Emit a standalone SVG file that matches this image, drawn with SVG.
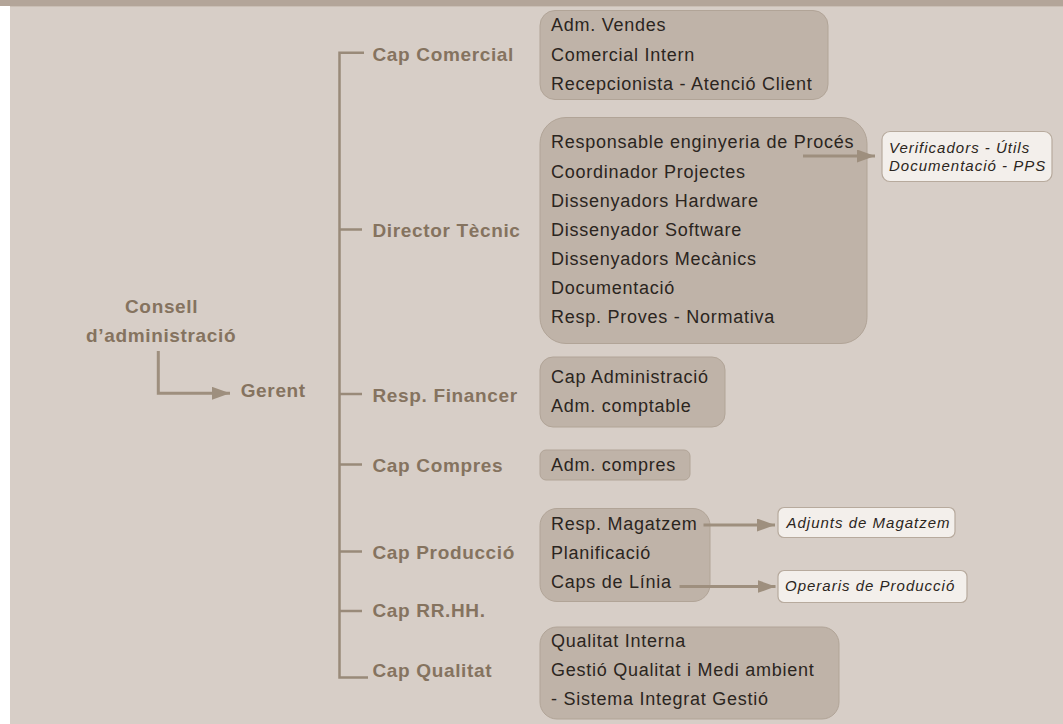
<svg xmlns="http://www.w3.org/2000/svg" width="1063" height="724" viewBox="0 0 1063 724">
<style>
.lbl{font-family:"Liberation Sans",Arial,sans-serif;font-weight:bold;font-size:19px;letter-spacing:0.65px;fill:#85735f}
.box{fill:#bfb3a8;stroke:#b1a497;stroke-width:1}
.bt{font-family:"Liberation Sans",Arial,sans-serif;font-size:18px;letter-spacing:0.75px;fill:#2b2520}
.note{fill:#f3efeb;stroke:#b7aa9d;stroke-width:1.2}
.nt{font-family:"Liberation Sans",Arial,sans-serif;font-style:italic;font-size:15px;letter-spacing:1px;fill:#2b2520}
.ln{fill:none;stroke:#998a79;stroke-width:2.5}
.ar{fill:none;stroke:#9e8f7e;stroke-width:3}
</style>
<defs>
<marker id="ah" markerWidth="19" markerHeight="13" refX="18" refY="6.5" orient="auto" markerUnits="userSpaceOnUse">
<path d="M0,0 L18,6.5 L0,13 Z" fill="#9e8f7e"/>
</marker>
</defs>
<rect x="0" y="0" width="1063" height="724" fill="#d7cec7"/>
<rect x="0" y="6" width="10" height="718" fill="#ffffff"/>
<rect x="0" y="0" width="1063" height="6" fill="#b3a599"/>
<rect x="10" y="6" width="1053" height="1" fill="#cabfb5"/>

<g id="consell"><text class="lbl" x="125" y="312.7">Consell</text><text class="lbl" x="86" y="341.7">d’administració</text></g>
<g id="gerent"><text class="lbl" x="240.7" y="397.3">Gerent</text></g>

<g id="cap-comercial"><text class="lbl" x="372.5" y="60.7">Cap Comercial</text></g>
<g id="director-tecnic"><text class="lbl" x="372.5" y="237">Director Tècnic</text></g>
<g id="resp-financer"><text class="lbl" x="372.5" y="402.3">Resp. Financer</text></g>
<g id="cap-compres"><text class="lbl" x="372.5" y="472">Cap Compres</text></g>
<g id="cap-produccio"><text class="lbl" x="372.5" y="559">Cap Producció</text></g>
<g id="cap-rrhh"><text class="lbl" x="372.5" y="617">Cap RR.HH.</text></g>
<g id="cap-qualitat"><text class="lbl" x="372.5" y="677">Cap Qualitat</text></g>

<g id="box-comercial">
<rect class="box" x="540" y="10.5" width="288" height="89" rx="15"/>
<text class="bt" x="551" y="31">Adm. Vendes</text>
<text class="bt" x="551" y="60.5">Comercial Intern</text>
<text class="bt" x="551" y="90">Recepcionista - Atenció Client</text>
</g>

<g id="box-tecnic">
<rect class="box" x="540" y="117.5" width="327" height="226" rx="26"/>
<text class="bt" x="551" y="148.3">Responsable enginyeria de Procés</text>
<text class="bt" x="551" y="177.7">Coordinador Projectes</text>
<text class="bt" x="551" y="206.7">Dissenyadors Hardware</text>
<text class="bt" x="551" y="236">Dissenyador Software</text>
<text class="bt" x="551" y="265">Dissenyadors Mecànics</text>
<text class="bt" x="551" y="294.3">Documentació</text>
<text class="bt" x="551" y="323.3">Resp. Proves - Normativa</text>
</g>

<g id="note-verificadors">
<rect class="note" x="882" y="131.5" width="170" height="50" rx="8"/>
<text class="nt" x="889" y="152.5">Verificadors - Útils</text>
<text class="nt" x="889" y="171">Documentació - PPS</text>
</g>

<g id="box-financer">
<rect class="box" x="540" y="357" width="185" height="70" rx="13"/>
<text class="bt" x="551" y="383.3">Cap Administració</text>
<text class="bt" x="551" y="412.3">Adm. comptable</text>
</g>

<g id="box-compres">
<rect class="box" x="540" y="450" width="150" height="30" rx="6"/>
<text class="bt" x="551" y="470.7">Adm. compres</text>
</g>

<g id="box-produccio">
<rect class="box" x="540" y="508.5" width="170" height="93" rx="17"/>
<text class="bt" x="551" y="530">Resp. Magatzem</text>
<text class="bt" x="551" y="559">Planificació</text>
<text class="bt" x="551" y="588.3">Caps de Línia</text>
</g>

<g id="note-adjunts">
<rect class="note" x="778" y="507.5" width="177" height="30" rx="6"/>
<text class="nt" x="786.5" y="528.3">Adjunts de Magatzem</text>
</g>

<g id="note-operaris">
<rect class="note" x="778" y="570.5" width="189" height="32" rx="6"/>
<text class="nt" x="785" y="591">Operaris de Producció</text>
</g>

<g id="box-qualitat">
<rect class="box" x="540" y="627" width="299" height="92" rx="17"/>
<text class="bt" x="551" y="646.7">Qualitat Interna</text>
<text class="bt" x="551" y="676">Gestió Qualitat i Medi ambient</text>
<text class="bt" x="551" y="705">- Sistema Integrat Gestió</text>
</g>

<g id="connectors">
<path class="ln" d="M364,52.7 H339.5 V677.5 H368"/>
<path class="ln" d="M339.5,229.5 H362"/>
<path class="ln" d="M339.5,394 H362"/>
<path class="ln" d="M339.5,464.5 H362"/>
<path class="ln" d="M339.5,551.5 H362"/>
<path class="ln" d="M339.5,611 H362"/>
<path class="ar" d="M158.3,351 V393.3 H230" marker-end="url(#ah)"/>
<path class="ar" d="M803,156 H875" marker-end="url(#ah)"/>
<path class="ar" d="M703.5,525 H775" marker-end="url(#ah)"/>
<path class="ar" d="M679.5,586.5 H775.5" marker-end="url(#ah)"/>
</g>
</svg>
